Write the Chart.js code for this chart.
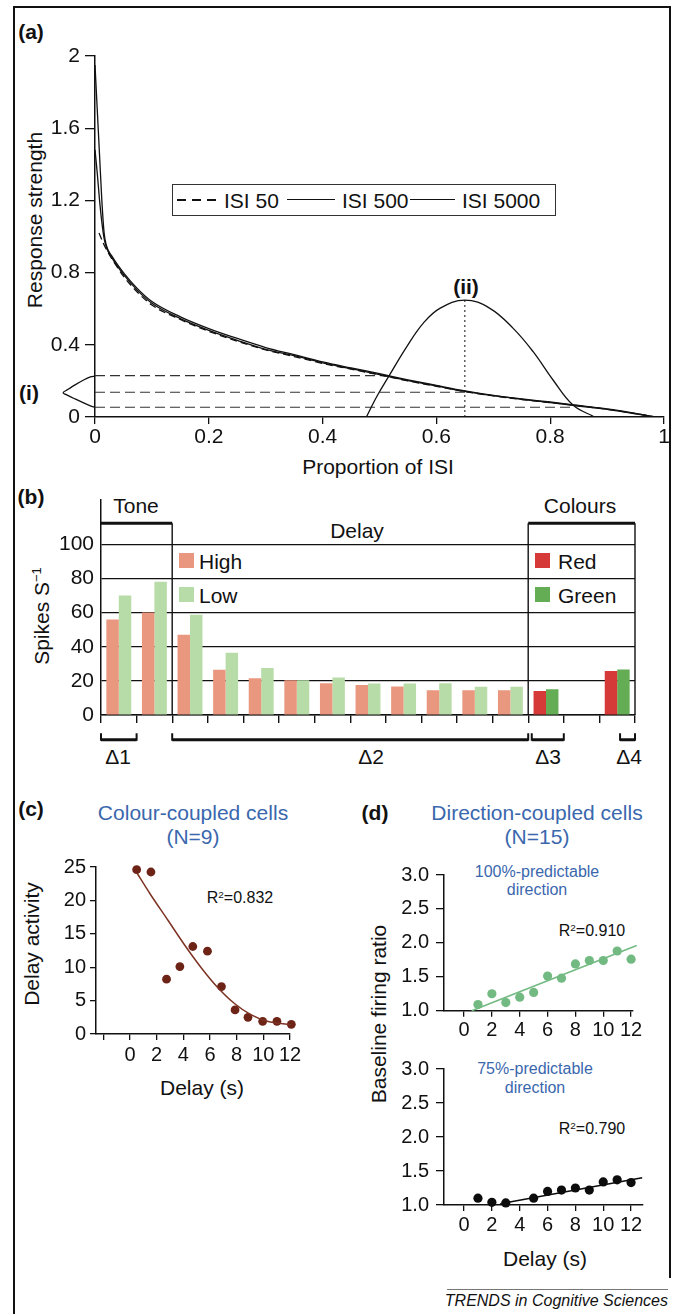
<!DOCTYPE html>
<html>
<head>
<meta charset="utf-8">
<title>Delay activity figure</title>
<script src="https://cdn.jsdelivr.net/npm/chart.js@4.4.1/dist/chart.umd.min.js"></script>
<style>
  html, body { margin: 0; padding: 0; background: #fff; }
  #fig { position: relative; width: 682px; height: 1314px; overflow: hidden;
         font-family: 'Liberation Sans', Arial, Helvetica, sans-serif; color: #111; }
  #fig canvas { position: absolute; }
  .t    { position: absolute; white-space: nowrap; line-height: 1; transform: translate(-50%, -50%); }
  .tl   { position: absolute; white-space: nowrap; line-height: 1; transform: translateY(-50%); }
  .rot  { transform: translate(-50%, -50%) rotate(-90deg); }
  .f21  { font-size: 21px; }
  .f16  { font-size: 16px; }
  .b    { font-weight: bold; }
  .blue { color: #3a67ad; }
  .rule { position: absolute; background: #111; }
  .sw   { position: absolute; width: 15px; height: 15px; }
  sup   { font-size: 0.62em; line-height: 0; vertical-align: 0.55em; }
</style>
</head>
<body>
<div id="fig">
  <!-- frame -->
  <div class="rule" style="left:13px;top:6px;width:658px;height:2px"></div>
  <div class="rule" style="left:13px;top:6px;width:2px;height:1308px"></div>
  <div class="rule" style="left:669px;top:6px;width:2px;height:1272px"></div>

  <!-- (a) -->
  <div class="t f21 b" style="left:31px;top:31px">(a)</div>
  <div class="t f21 rot" style="left:34px;top:220px">Response strength</div>
  <div class="t f21" style="left:378px;top:466px">Proportion of ISI</div>
  <div class="t f21 b" style="left:466px;top:286px">(ii)</div>
  <div class="t f21 b" style="left:29px;top:392px">(i)</div>
  <div style="position:absolute;left:172px;top:184px;width:384px;height:32px;box-sizing:border-box;border:1.5px solid #333"></div>
  <div style="position:absolute;left:177px;top:199px;width:39px;height:1.5px;background:repeating-linear-gradient(to right,#111 0 9px,transparent 9px 15px)"></div>
  <div class="tl f21" style="left:224px;top:200px">ISI 50</div>
  <div class="rule" style="left:287px;top:199px;width:48px;height:1.3px"></div>
  <div class="tl f21" style="left:342px;top:200px">ISI 500</div>
  <div class="rule" style="left:410px;top:199px;width:45px;height:1.3px"></div>
  <div class="tl f21" style="left:462px;top:200px">ISI 5000</div>

  <!-- (b) -->
  <div class="t f21 b" style="left:31px;top:496px">(b)</div>
  <div class="t f21 rot" style="left:41px;top:616px">Spikes S<sup>−1</sup></div>
  <div class="t f21" style="left:136px;top:505px">Tone</div>
  <div class="t f21" style="left:357px;top:530px">Delay</div>
  <div class="t f21" style="left:580px;top:505px">Colours</div>
  <div class="sw" style="left:179px;top:553px;background:#e9977e"></div>
  <div class="tl f21" style="left:199px;top:561px">High</div>
  <div class="sw" style="left:179px;top:587px;background:#b7dca8"></div>
  <div class="tl f21" style="left:199px;top:595px">Low</div>
  <div class="sw" style="left:535px;top:553px;background:#d63a38"></div>
  <div class="tl f21" style="left:558px;top:561px">Red</div>
  <div class="sw" style="left:535px;top:587px;background:#64ad55"></div>
  <div class="tl f21" style="left:558px;top:595px">Green</div>
  <div class="t f21" style="left:118px;top:756px">Δ1</div>
  <div class="t f21" style="left:371px;top:756px">Δ2</div>
  <div class="t f21" style="left:548px;top:756px">Δ3</div>
  <div class="t f21" style="left:629px;top:756px">Δ4</div>

  <!-- (c) -->
  <div class="t f21 b" style="left:31px;top:808px">(c)</div>
  <div class="t f21 blue" style="left:193px;top:812px">Colour-coupled cells</div>
  <div class="t f21 blue" style="left:193px;top:836px">(N=9)</div>
  <div class="t f16" style="left:240px;top:898px">R<sup>2</sup>=0.832</div>
  <div class="t f21 rot" style="left:31px;top:944px">Delay activity</div>
  <div class="t f21" style="left:202px;top:1087px">Delay (s)</div>

  <!-- (d) -->
  <div class="t f21 b" style="left:375px;top:812px">(d)</div>
  <div class="t f21 blue" style="left:537px;top:812px">Direction-coupled cells</div>
  <div class="t f21 blue" style="left:537px;top:836px">(N=15)</div>
  <div class="t f16 blue" style="left:537px;top:872px">100%-predictable</div>
  <div class="t f16 blue" style="left:537px;top:890px">direction</div>
  <div class="t f16" style="left:592px;top:931px">R<sup>2</sup>=0.910</div>
  <div class="t f16 blue" style="left:535px;top:1069px">75%-predictable</div>
  <div class="t f16 blue" style="left:535px;top:1088px">direction</div>
  <div class="t f16" style="left:592px;top:1129px">R<sup>2</sup>=0.790</div>
  <div class="t f21 rot" style="left:378px;top:1014px">Baseline firing ratio</div>
  <div class="t f21" style="left:545px;top:1258px">Delay (s)</div>

  <!-- footer -->
  <div style="position:absolute;left:447px;top:1289px;width:221px;height:1px;background:#777"></div>
  <div class="tl f16" style="right:14px;top:1301px;font-style:italic">TRENDS in Cognitive Sciences</div>
</div>

<script>
'use strict';

/* ---------- (a) response strength vs proportion of ISI ---------- */
const propX   = [0, 0.004, 0.008, 0.012, 0.016, 0.02, 0.03, 0.05, 0.075, 0.1, 0.15, 0.2, 0.25, 0.3,
                 0.35, 0.4, 0.45, 0.5, 0.55, 0.6, 0.65, 0.7, 0.75, 0.8, 0.85, 0.9, 0.95, 0.985];
const isi5000 = [1.95, 1.7, 1.45, 1.2, 1.02, 0.95, 0.89, 0.8, 0.71, 0.64, 0.555, 0.49, 0.435, 0.385,
                 0.345, 0.305, 0.272, 0.24, 0.206, 0.175, 0.145, 0.12, 0.1, 0.083, 0.064, 0.045, 0.02, 0];
const isi500  = [1.48, 1.35, 1.2, 1.08, 0.99, 0.94, 0.88, 0.79, 0.70, 0.63, 0.545, 0.48, 0.425, 0.375,
                 0.34, 0.30, 0.268, 0.235, 0.202, 0.172, 0.142, 0.118, 0.098, 0.08, 0.061, 0.042, 0.018, 0];
const prop50X = [0.007, 0.015, 0.025, 0.035, 0.05, 0.075, 0.1, 0.15, 0.2, 0.25, 0.3, 0.35, 0.4, 0.45,
                 0.5, 0.55, 0.6, 0.65, 0.7, 0.75, 0.8, 0.85, 0.9, 0.95, 0.985];
const isi50   = [1.02, 0.96, 0.9, 0.85, 0.78, 0.69, 0.62, 0.54, 0.475, 0.42, 0.372, 0.335, 0.297, 0.265,
                 0.233, 0.2, 0.17, 0.141, 0.117, 0.097, 0.08, 0.062, 0.043, 0.019, 0];
// (ii) the peaked expectation curve
const bumpX   = [0.477, 0.495, 0.517, 0.548, 0.577, 0.606, 0.65, 0.694, 0.735, 0.77, 0.805, 0.84, 0.878];
const bumpY   = [0, 0.112, 0.229, 0.39, 0.52, 0.602, 0.648, 0.602, 0.491, 0.362, 0.205, 0.066, 0];
// (i) the sideways distribution left of the y axis
const bellX   = [0, -0.008, -0.02, -0.035, -0.048, -0.056, -0.048, -0.035, -0.02, -0.008, 0];
const bellY   = [0.227, 0.222, 0.205, 0.178, 0.152, 0.135, 0.12, 0.1, 0.078, 0.062, 0.054];
const guideLevels = [0.229, 0.137, 0.054];   // dashed levels
const guideEnds   = [0.513, 0.66, 0.84];     // where they meet the curve
const peakX = 0.65, peakY = 0.648;

/* ---------- (b) spikes per second ---------- */
const bKinds   = ['tone', 'tone', 'delay', 'delay', 'delay', 'delay', 'delay', 'delay', 'delay',
                  'delay', 'delay', 'delay', 'colour', 'gap', 'colour'];
const highRed  = [56, 60, 47, 26.5, 21.5, 20.3, 18.6, 17.6, 16.7, 14.5, 14.5, 14.5, 14, null, 25.8];
const lowGreen = [70, 78, 58.7, 36.4, 27.5, 20.3, 21.9, 18.4, 18.4, 18.6, 16.5, 16.5, 15.1, null, 26.7];
const bTicksY  = [0, 20, 40, 60, 80, 100];
const bTopLevel = 112.4, bYMax = 126.2;
const dividers   = [2, 12, 15];                          // category boundaries
const topBrackets = [[0, 2], [12, 15]];                  // Tone, Colours
const lowBrackets = [[0, 1], [2, 12], [12.1, 13], [14.58, 15]];  // Δ1..Δ4

/* ---------- (c) colour-coupled cells ---------- */
const cX    = [0.5, 1.57, 2.74, 3.74, 4.71, 5.81, 6.86, 7.88, 8.85, 9.95, 11.02, 12.1];
const cY    = [24.6, 24.25, 8.2, 10.1, 13.1, 12.4, 7.1, 3.6, 2.5, 1.9, 1.9, 1.45];
const cFitX = [0.52, 1.5, 2.82, 4.07, 5.31, 6.56, 7.81, 9.06, 10.3, 12.05];
const cFitY = [24.1, 21.0, 17.1, 13.4, 10.0, 7.0, 4.6, 2.9, 1.9, 1.4];
const cTicksX = [-2, 0, 2, 4, 6, 8, 10, 12];

/* ---------- (d) direction-coupled cells ---------- */
const d1X    = [1, 2, 3, 4, 5, 6, 7, 8, 9, 10, 11, 12];
const d1Y    = [1.09, 1.25, 1.12, 1.2, 1.27, 1.51, 1.48, 1.69, 1.74, 1.74, 1.88, 1.76];
const d1FitX = [0.55, 12.4];
const d1FitY = [1.0, 1.96];
const d2X    = [1, 2, 3, 5, 6, 7, 8, 9, 10, 11, 12];
const d2Y    = [1.10, 1.04, 1.03, 1.10, 1.20, 1.22, 1.25, 1.22, 1.34, 1.37, 1.33];
const d2FitX = [2.6, 12.8];
const d2FitY = [1.02, 1.40];
const dTicksX = [0, 2, 4, 6, 8, 10, 12];

/* ---------- styling ---------- */
const INK = '#111';
const FONT = "'Liberation Sans', Arial, Helvetica, sans-serif";
Chart.defaults.font.family = FONT;
Chart.defaults.color = INK;
Chart.defaults.animation = false;
Chart.defaults.plugins.legend.display = false;
Chart.defaults.plugins.tooltip.enabled = false;

const pts = (xs, ys) => xs.map((x, i) => ({ x, y: ys[i] }));

function makeCanvas(left, top, w, h) {
  const c = document.createElement('canvas');
  c.width = w; c.height = h;
  c.style.left = left + 'px'; c.style.top = top + 'px';
  c.style.width = w + 'px'; c.style.height = h + 'px';
  document.getElementById('fig').appendChild(c);
  return c;
}

function axis(o) {
  return {
    type: 'linear', min: o.min, max: o.max,
    afterFit: o.fit,
    afterBuildTicks: o.ticksAt ? (s => { s.ticks = o.ticksAt.map(v => ({ value: v })); }) : undefined,
    ticks: { stepSize: o.step, font: { size: o.size || 20 }, color: INK, padding: o.pad,
             maxRotation: 0, autoSkip: false, callback: o.fmt },
    grid: { drawOnChartArea: false, tickLength: o.tick, color: INK, lineWidth: 1.3 },
    border: { color: INK, width: 1.5 },
  };
}

const lineSet = (data, extra) => Object.assign({
  data, showLine: true, borderColor: INK, borderWidth: 1.3, pointRadius: 0, fill: false,
}, extra);

/* ═══ (a) ═══ */
const fmtA = v => (Math.abs(v) < 1e-9 ? '0' : Math.abs(v - Math.round(v)) < 1e-9 ? String(Math.round(v)) : v.toFixed(1));
new Chart(makeCanvas(0, 0, 682, 480), {
  type: 'scatter',
  data: {
    datasets: [
      lineSet(pts(propX, isi5000), { cubicInterpolationMode: 'monotone' }),
      lineSet(pts(propX, isi500), { cubicInterpolationMode: 'monotone' }),
      lineSet(pts(prop50X, isi50), { cubicInterpolationMode: 'monotone', borderDash: [7, 4] }),
      lineSet(pts(bumpX, bumpY), { tension: 0.4 }),
      lineSet([{ x: peakX, y: 0 }, { x: peakX, y: peakY }], { borderWidth: 1, borderDash: [2, 3] }),
      ...guideLevels.map((lv, i) => lineSet([{ x: 0, y: lv }, { x: guideEnds[i], y: lv }],
                                            { borderWidth: 1.2, borderDash: [10, 5], borderColor: '#333' })),
      lineSet(pts(bellX, bellY), { tension: 0.3, clip: false }),
    ],
  },
  options: {
    responsive: false, devicePixelRatio: 1,
    layout: { padding: { top: 56, right: 18, left: 0, bottom: 0 } },
    scales: {
      x: axis({ min: 0, max: 1, step: 0.2, fmt: fmtA, pad: 1, tick: 7, size: 21, fit: s => { s.height = 63; } }),
      y: axis({ min: 0, max: 2, step: 0.4, fmt: fmtA, pad: 5, tick: 10, size: 21, fit: s => { s.width = 95; } }),
    },
  },
});

/* ═══ (b) ═══ */
const SALMON = '#e9977e', PALEGREEN = '#b7dca8', RED = '#d63a38', GREEN = '#64ad55';
const bracketPlugin = {
  id: 'brackets',
  afterDatasetsDraw(chart) {
    const { ctx, scales: { x, y } } = chart;
    const bx = b => x.getPixelForValue(b - 0.5);
    const seg = (x1, y1, x2, y2) => { ctx.beginPath(); ctx.moveTo(x1, y1); ctx.lineTo(x2, y2); ctx.stroke(); };
    const yTop = y.getPixelForValue(bTopLevel), y0 = y.getPixelForValue(0);
    const yLow = y.getPixelForValue(-14.5), yLowTip = y.getPixelForValue(-10.7);
    ctx.save();
    ctx.strokeStyle = INK;
    ctx.lineWidth = 1.4;
    dividers.forEach(b => seg(bx(b), yTop, bx(b), y0));
    ctx.lineWidth = 3;
    topBrackets.forEach(([a, b]) => seg(bx(a), yTop, bx(b), yTop));
    lowBrackets.forEach(([a, b]) => {
      ctx.lineWidth = 3;
      seg(bx(a), yLow, bx(b), yLow);
      ctx.lineWidth = 2;
      seg(bx(a), yLow + 1, bx(a), yLowTip);
      seg(bx(b), yLow + 1, bx(b), yLowTip);
    });
    ctx.restore();
  },
};

new Chart(makeCanvas(0, 480, 682, 300), {
  type: 'bar',
  data: {
    labels: bKinds,
    datasets: [
      { data: highRed, backgroundColor: bKinds.map(k => (k === 'colour' ? RED : SALMON)), borderWidth: 0 },
      { data: lowGreen, backgroundColor: bKinds.map(k => (k === 'colour' ? GREEN : PALEGREEN)), borderWidth: 0 },
    ],
  },
  options: {
    responsive: false, devicePixelRatio: 1,
    categoryPercentage: 0.7, barPercentage: 1.0,
    layout: { padding: { top: 18, right: 47, left: 0, bottom: 0 } },
    scales: {
      x: {
        afterFit: s => { s.height = 65; },
        ticks: { callback: () => '' },
        grid: { offset: true, drawOnChartArea: false, tickLength: 8, color: INK, lineWidth: 1.4 },
        border: { color: INK, width: 1.5 },
      },
      y: {
        min: 0, max: bYMax,
        afterFit: s => { s.width = 101; },
        afterBuildTicks: s => { s.ticks = bTicksY.map(v => ({ value: v })); },
        ticks: { font: { size: 21 }, color: INK, padding: 7 },
        grid: { drawTicks: false, color: INK, lineWidth: 1.2 },
        border: { color: INK, width: 1.5 },
      },
    },
  },
  plugins: [bracketPlugin],
});

/* ═══ (c) ═══ */
const MAROON = '#6e2317';
new Chart(makeCanvas(0, 840, 340, 260), {
  type: 'scatter',
  data: {
    datasets: [
      lineSet(pts(cFitX, cFitY), { borderColor: '#7d3324', borderWidth: 1.5, cubicInterpolationMode: 'monotone', clip: false }),
      { data: pts(cX, cY), backgroundColor: MAROON, borderWidth: 0, pointRadius: 4.4, clip: false },
    ],
  },
  options: {
    responsive: false, devicePixelRatio: 1,
    layout: { padding: { top: 27, right: 50, left: 0, bottom: 0 } },
    scales: {
      x: axis({ min: -2.55, max: 12, ticksAt: cTicksX, fmt: v => (v < 0 ? '' : v), pad: 3, tick: 6,
                fit: s => { s.height = 66; } }),
      y: axis({ min: 0, max: 25, step: 5, pad: 4, tick: 6, fit: s => { s.width = 96; } }),
    },
  },
});

/* ═══ (d) ═══ */
const fmtD = v => v.toFixed(1);
function dPanel(top, padTop, padRight, xMax, xH, pointsData, fitData, color) {
  return new Chart(makeCanvas(340, top, 342, 200), {
    type: 'scatter',
    data: {
      datasets: [
        lineSet(fitData, { borderColor: color, borderWidth: 1.5, clip: false }),
        { data: pointsData, backgroundColor: color, borderWidth: 0, pointRadius: 4.6, clip: false },
      ],
    },
    options: {
      responsive: false, devicePixelRatio: 1,
      layout: { padding: { top: padTop, right: padRight, left: 0, bottom: 0 } },
      scales: {
        x: axis({ min: -1.44, max: xMax, ticksAt: dTicksX, pad: 2, tick: 6, fit: s => { s.height = xH; } }),
        y: axis({ min: 1, max: 3, step: 0.5, fmt: fmtD, pad: 7, tick: 8, fit: s => { s.width = 104; } }),
      },
    },
  });
}
dPanel(850, 25, 49.5, 12.1, 39.3, pts(d1X, d1Y), pts(d1FitX, d1FitY), '#72ba82');
dPanel(1050, 19, 39.8, 12.8, 45, pts(d2X, d2Y), pts(d2FitX, d2FitY), '#0c0c0c');
</script>
</body>
</html>
